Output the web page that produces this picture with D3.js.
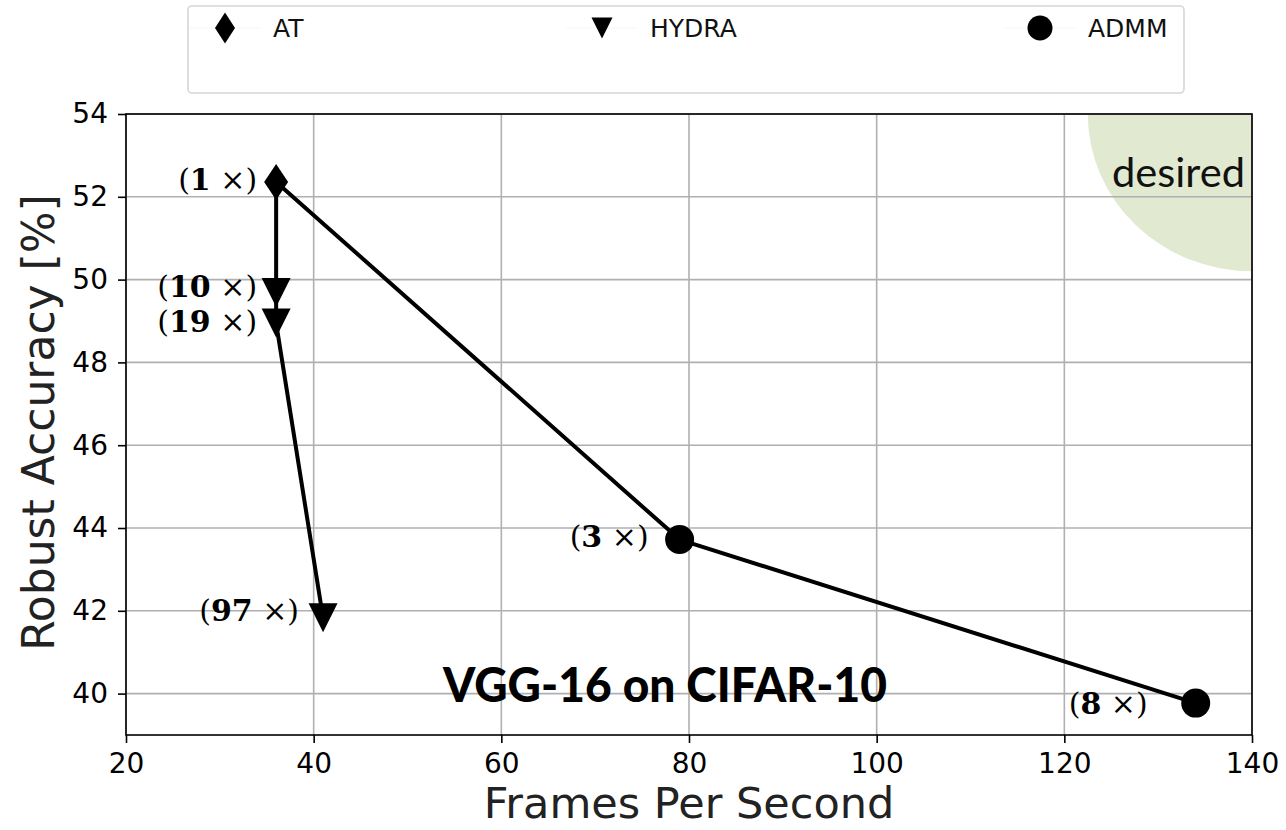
<!DOCTYPE html>
<html>
<head>
<meta charset="utf-8">
<script src="https://cdn.jsdelivr.net/npm/d3@7"></script>
<style>
  html, body { margin: 0; padding: 0; background: #fff; }
  svg { display: block; }
</style>
</head>
<body>
<svg id="chart" width="1286" height="830"></svg>
<script>
// ---- data -------------------------------------------------------------
const methods = ["AT", "HYDRA", "ADMM"];

// baseline adversarial training
const atFps = [36];
const atAcc = [52.36];
const atRatio = ["1"];

// HYDRA pruning (starts from the AT model)
const hydraFps = [36, 36, 41];
const hydraAcc = [49.69, 48.95, 41.83];
const hydraRatio = ["10", "19", "97"];

// ADMM pruning (starts from the AT model)
const admmFps = [79, 134];
const admmAcc = [43.72, 39.77];
const admmRatio = ["3", "8"];

const xTicks = [20, 40, 60, 80, 100, 120, 140];
const yTicks = [40, 42, 44, 46, 48, 50, 52, 54];

// "desired" corner region in data units
const desiredX = [122.5, 140];
const desiredY = [50.2, 54];

// ---- layout -----------------------------------------------------------
const svg = d3.select("#chart");
const plot = { left: 126, right: 1252, top: 114, bottom: 735 };

const x = d3.scaleLinear().domain([20, 140]).range([plot.left, plot.right]);
const y = d3.scaleLinear().domain([39, 54]).range([plot.bottom, plot.top]);

const sansFont = "'DejaVu Sans', sans-serif";
const serifFont = "'DejaVu Serif', serif";

svg.append("defs").append("clipPath").attr("id", "plotClip")
  .append("rect")
  .attr("x", plot.left).attr("y", plot.top)
  .attr("width", plot.right - plot.left).attr("height", plot.bottom - plot.top);

// desired region (quarter ellipse anchored at the top-right corner)
svg.append("ellipse")
  .attr("clip-path", "url(#plotClip)")
  .attr("cx", x(desiredX[1])).attr("cy", y(desiredY[1]))
  .attr("rx", x(desiredX[1]) - x(desiredX[0]))
  .attr("ry", y(desiredY[0]) - y(desiredY[1]))
  .attr("fill", "#e1e9d0");

// grid
const grid = svg.append("g").attr("stroke", "#b0b0b0").attr("stroke-width", 1.6);
grid.selectAll("line.gx").data(xTicks).join("line")
  .attr("x1", d => x(d)).attr("x2", d => x(d))
  .attr("y1", plot.top).attr("y2", plot.bottom);
grid.selectAll("line.gy").data(yTicks).join("line")
  .attr("x1", plot.left).attr("x2", plot.right)
  .attr("y1", d => y(d)).attr("y2", d => y(d));

svg.append("text")
  .attr("x", 1112).attr("y", 187)
  .attr("font-family", "Lato, 'Open Sans', sans-serif")
  .attr("font-size", 40)
  .attr("textLength", 133).attr("lengthAdjust", "spacingAndGlyphs")
  .attr("fill", "#111")
  .text("desired");

// axes
const xAxis = d3.axisBottom(x).tickValues(xTicks).tickSizeOuter(0).tickSize(8).tickPadding(10);
const yAxis = d3.axisLeft(y).tickValues(yTicks).tickSizeOuter(0).tickSize(8).tickPadding(10);

const gx = svg.append("g").attr("transform", `translate(0,${plot.bottom})`).call(xAxis);
const gy = svg.append("g").attr("transform", `translate(${plot.left},0)`).call(yAxis);
[gx, gy].forEach(g => {
  g.select(".domain").remove();
  g.selectAll(".tick line").attr("stroke", "#000").attr("stroke-width", 1.6);
  g.selectAll(".tick text").attr("font-family", sansFont).attr("font-size", 28).attr("fill", "#000");
});
gx.selectAll(".tick text").attr("dy", "0.71em");

// frame
svg.append("rect")
  .attr("x", plot.left).attr("y", plot.top)
  .attr("width", plot.right - plot.left).attr("height", plot.bottom - plot.top)
  .attr("fill", "none").attr("stroke", "#000").attr("stroke-width", 1.6);

// axis titles
svg.append("text")
  .attr("x", (plot.left + plot.right) / 2 + 0).attr("y", 818)
  .attr("text-anchor", "middle")
  .attr("font-family", sansFont).attr("font-size", 43)
  .attr("fill", "#222")
  .text("Frames Per Second");

svg.append("text")
  .attr("transform", `translate(54,${(plot.top + plot.bottom) / 2 - 2}) rotate(-90)`)
  .attr("text-anchor", "middle")
  .attr("font-family", sansFont).attr("font-size", 44)
  .attr("fill", "#222")
  .text("Robust Accuracy [%]");

// chart title inside the axes
svg.append("text")
  .attr("x", 443).attr("y", 702)
  .attr("font-family", "Lato, 'Open Sans', sans-serif")
  .attr("font-weight", 900)
  .attr("font-size", 48)
  .attr("textLength", 444).attr("lengthAdjust", "spacingAndGlyphs")
  .attr("fill", "#000")
  .text("VGG-16 on CIFAR-10");

// ---- series -----------------------------------------------------------
const line = d3.line().x(d => x(d[0])).y(d => y(d[1]));
const atPts = atFps.map((f, i) => [f, atAcc[i]]);
const hydraPts = hydraFps.map((f, i) => [f, hydraAcc[i]]);
const admmPts = admmFps.map((f, i) => [f, admmAcc[i]]);

const lines = svg.append("g").attr("fill", "none").attr("stroke", "#000").attr("stroke-width", 4)
  .attr("stroke-linejoin", "round");
lines.append("path").attr("d", line(atPts.concat(hydraPts)));
lines.append("path").attr("d", line(atPts.concat(admmPts)));

// marker shapes
const shapes = {
  AT: (w, h) => `M0,${-h}L${w},0L0,${h}L${-w},0Z`,
  HYDRA: (w, h) => `M${-w},${-h}L${w},${-h}L0,${h}Z`,
  ADMM: (w) => d3.arc()({ innerRadius: 0, outerRadius: w, startAngle: 0, endAngle: 2 * Math.PI })
};
const markerSize = { AT: [12, 18], HYDRA: [14.5, 14.5], ADMM: [14.5, 14.5] };

function drawMarkers(name, pts) {
  svg.append("g").selectAll("path").data(pts).join("path")
    .attr("transform", d => `translate(${x(d[0])},${y(d[1])})`)
    .attr("d", shapes[name](...markerSize[name]))
    .attr("fill", "#000");
}
drawMarkers("AT", atPts);
drawMarkers("HYDRA", hydraPts);
drawMarkers("ADMM", admmPts);

// compression-ratio labels, placed left of each marker
const labelShift = {
  AT: [[-19, 8]],
  HYDRA: [[-19, 5], [-19, 9], [-24, 3]],
  ADMM: [[-31, 7], [-48, 11]]
};
function drawLabels(name, pts, ratios) {
  const t = svg.append("g").selectAll("text").data(pts).join("text")
    .attr("x", (d, i) => x(d[0]) + labelShift[name][i][0])
    .attr("y", (d, i) => y(d[1]) + labelShift[name][i][1])
    .attr("text-anchor", "end")
    .attr("font-family", serifFont).attr("font-size", 30)
    .attr("fill", "#000");
  t.append("tspan").text("(");
  t.append("tspan").attr("font-weight", "bold").text((d, i) => ratios[i]);
  t.append("tspan").text(" \u00d7)");
}
drawLabels("AT", atPts, atRatio);
drawLabels("HYDRA", hydraPts, hydraRatio);
drawLabels("ADMM", admmPts, admmRatio);

// ---- legend -----------------------------------------------------------
const legend = svg.append("g");
legend.append("rect")
  .attr("x", 188).attr("y", 6).attr("width", 996).attr("height", 87).attr("rx", 4)
  .attr("fill", "#fff").attr("stroke", "#d6d6d6").attr("stroke-width", 1.6);

const legendX = [225, 602, 1040];
const legendMarker = { AT: [10, 15.5], HYDRA: [10.5, 10.5], ADMM: [12.5, 12.5] };
methods.forEach((m, i) => {
  const g = legend.append("g").attr("transform", `translate(${legendX[i]},28)`);
  g.append("line").attr("x1", -36).attr("x2", 36).attr("stroke", "#f7f7f7").attr("stroke-width", 1.2);
  g.append("path").attr("d", shapes[m](...legendMarker[m])).attr("fill", "#000");
  g.append("text")
    .attr("x", 48).attr("y", 9)
    .attr("font-family", sansFont).attr("font-size", 25)
    .attr("fill", "#111")
    .text(m);
});
</script>
</body>
</html>
